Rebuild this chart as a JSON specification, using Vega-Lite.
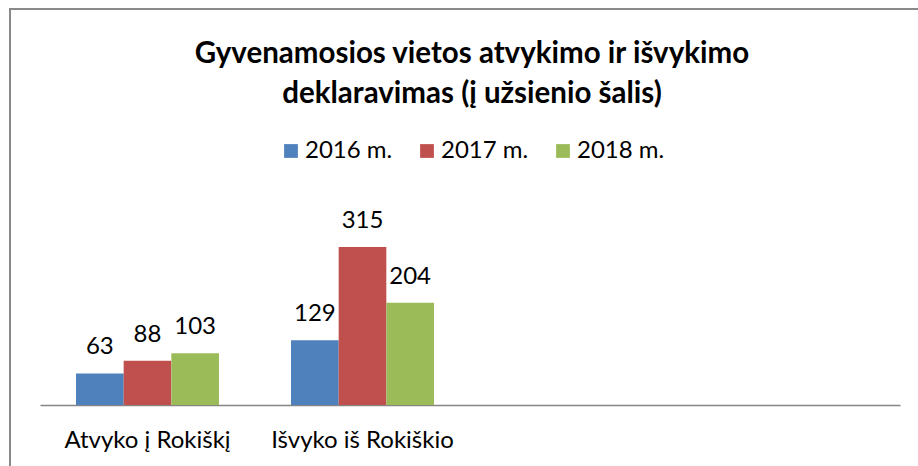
{
  "$schema": "https://vega.github.io/schema/vega-lite/v6.json",
  "width": 910,
  "height": 462,
  "autosize": {"type": "none"},
  "padding": {"left": 10, "top": 9, "right": 0, "bottom": 0},
  "background": "white",
  "config": {
    "view": {"stroke": "#898989", "strokeWidth": 2, "fill": "white"},
    "font": "Lato"
  },
  "title": {
    "text": ["Gyvenamosios vietos atvykimo ir išvykimo", "deklaravimas (į užsienio šalis)"],
    "font": "Lato",
    "fontSize": 29.5,
    "fontWeight": "bold",
    "color": "#000000",
    "lineHeight": 40,
    "anchor": "middle",
    "frame": "group",
    "offset": -100,
    "dx": 7
  },
  "data": {
    "values": [
      {"cat": "Atvyko į Rokiškį", "year": "2016 m.", "value": 63},
      {"cat": "Atvyko į Rokiškį", "year": "2017 m.", "value": 88},
      {"cat": "Atvyko į Rokiškį", "year": "2018 m.", "value": 103},
      {"cat": "Išvyko iš Rokiškio", "year": "2016 m.", "value": 129},
      {"cat": "Išvyko iš Rokiškio", "year": "2017 m.", "value": 315},
      {"cat": "Išvyko iš Rokiškio", "year": "2018 m.", "value": 204}
    ]
  },
  "encoding": {
    "x": {
      "field": "cat",
      "type": "nominal",
      "sort": null,
      "scale": {
        "domain": ["Atvyko į Rokiškį", "Išvyko iš Rokiškio", " ", "  "],
        "range": [30, 890],
        "paddingInner": 0.335,
        "paddingOuter": 0.1675
      },
      "axis": {
        "title": null,
        "orient": "bottom",
        "offset": -66,
        "ticks": false,
        "domainColor": "#868686",
        "domainWidth": 1.5,
        "labelAngle": 0,
        "labelFont": "Lato",
        "labelFontSize": 24,
        "labelColor": "#000000",
        "labelPadding": 23,
        "labelLimit": 400
      }
    },
    "xOffset": {
      "field": "year",
      "type": "nominal",
      "scale": {"domain": ["2016 m.", "2017 m.", "2018 m."], "paddingInner": 0, "paddingOuter": 0}
    },
    "y": {
      "field": "value",
      "type": "quantitative",
      "scale": {"domain": [0, 350], "range": [396, 220.4], "nice": false, "zero": true},
      "axis": null
    }
  },
  "layer": [
    {
      "mark": {"type": "bar"},
      "encoding": {
        "color": {
          "field": "year",
          "type": "nominal",
          "scale": {"domain": ["2016 m.", "2017 m.", "2018 m."], "range": ["#4F81BD", "#C0504D", "#9BBB59"]},
          "legend": {
            "title": null,
            "orient": "none",
            "legendX": 269,
            "legendY": 130,
            "direction": "horizontal",
            "symbolType": "square",
            "symbolSize": 190,
            "symbolStrokeWidth": 0,
            "labelFont": "Lato",
            "labelFontSize": 24,
            "labelColor": "#000000",
            "labelOffset": 2,
            "columnPadding": 22
          }
        }
      }
    },
    {
      "mark": {"type": "text", "baseline": "alphabetic", "dy": -19, "fontSize": 24, "font": "Lato", "color": "#000000"},
      "encoding": {
        "text": {"field": "value", "type": "quantitative"}
      }
    }
  ]
}
